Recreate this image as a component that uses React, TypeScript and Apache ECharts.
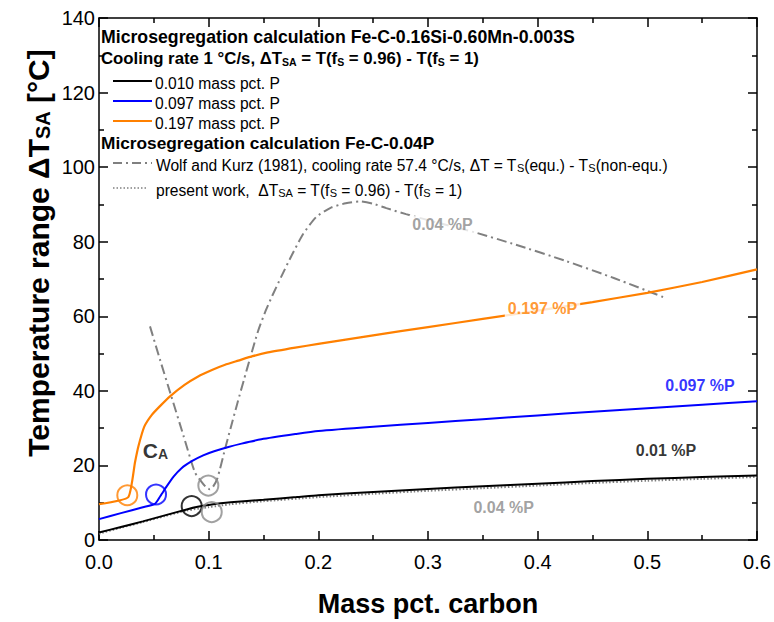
import React, { useEffect, useRef } from 'react';
import * as echarts from 'echarts';

const FONT = '"Liberation Sans", Arial, Helvetica, sans-serif';

// Fe-C-0.16Si-0.60Mn-0.003S, 0.010 mass pct. P
const p010X = [0, 0.02, 0.04, 0.06, 0.08, 0.09, 0.1, 0.12, 0.15, 0.18, 0.2, 0.25, 0.3, 0.35, 0.4, 0.45, 0.5, 0.55, 0.6];
const p010Y = [2.0, 3.5, 5.0, 6.6, 8.2, 8.9, 9.4, 10.1, 10.8, 11.5, 12.0, 12.9, 13.7, 14.4, 15.1, 15.8, 16.4, 16.9, 17.3];

// 0.097 mass pct. P
const p097X = [0, 0.02, 0.04, 0.051, 0.056, 0.062, 0.068, 0.075, 0.085, 0.095, 0.105, 0.118, 0.13, 0.148, 0.179, 0.2, 0.25, 0.3, 0.35, 0.4, 0.45, 0.5, 0.55, 0.6];
const p097Y = [5.6, 7.2, 8.8, 9.7, 11.8, 14.5, 17.0, 19.2, 21.2, 22.7, 23.8, 24.95, 25.85, 27.0, 28.4, 29.25, 30.4, 31.4, 32.4, 33.4, 34.4, 35.35, 36.3, 37.2];

// 0.197 mass pct. P
const p197X = [0, 0.0267, 0.0328, 0.036, 0.0413, 0.048, 0.0556, 0.065, 0.078, 0.09, 0.103, 0.115, 0.127, 0.14, 0.154, 0.179, 0.2, 0.25, 0.3, 0.35, 0.4, 0.45, 0.5, 0.55, 0.6];
const p197Y = [9.6, 11.5, 20.8, 25.2, 30.4, 33.5, 35.9, 38.6, 41.6, 43.8, 45.6, 47.0, 48.1, 49.3, 50.3, 51.6, 52.6, 54.9, 57.1, 59.3, 61.5, 63.8, 66.3, 69.2, 72.6];

// Fe-C-0.04P, Wolf and Kurz (1981)
const wolfX = [0.0465, 0.056, 0.066, 0.077, 0.0875, 0.0935, 0.0975, 0.101, 0.104, 0.108, 0.115, 0.12, 0.126, 0.132, 0.138, 0.145, 0.152, 0.158, 0.166, 0.176, 0.186, 0.198, 0.212, 0.225, 0.238, 0.25, 0.262, 0.28, 0.31, 0.344, 0.38, 0.426, 0.47, 0.515];
const wolfY = [57.3, 48, 38.5, 28, 18.1, 15.6, 14.2, 13.6, 14.3, 16.6, 24.5, 30, 36.5, 42.8, 49, 56, 61.5, 65.5, 70.5, 76.5, 82, 86.6, 89.2, 90.3, 90.8, 90.2, 89, 87.4, 85, 82.4, 79.2, 74.8, 70.2, 65.1];

// Fe-C-0.04P, present work
const presentX = [0, 0.02, 0.04, 0.06, 0.08, 0.1, 0.12, 0.15, 0.2, 0.25, 0.3, 0.35, 0.4, 0.45, 0.5, 0.55, 0.6];
const presentY = [1.7, 3.3, 4.8, 6.4, 7.9, 8.8, 9.6, 10.4, 11.5, 12.4, 13.2, 13.9, 14.6, 15.3, 15.9, 16.4, 16.9];

// C_A markers (circles)
const caPointX = [0.0258, 0.052, 0.0845, 0.0997, 0.1028];
const caPointY = [12.0, 12.2, 9.1, 14.6, 7.5];

// curve labels
const curveLabelText = ['0.04 %P', '0.197 %P', '0.097 %P', '0.01 %P', '0.04 %P'];
const curveLabelX = [0.3132, 0.4044, 0.548, 0.517, 0.369];
const curveLabelY = [84.6, 62.0, 41.4, 23.9, 8.8];

const caLabelX = 0.0515;
const caLabelY = 25.2;

const GREY = '#808080';
const GREY_TXT = '#8a8a8a';
const ORANGE = '#ff8000';
const BLUE = '#0000ff';
const BLACK = '#000000';

const circleColors = [ORANGE, BLUE, BLACK, GREY_TXT, GREY_TXT];
const labelColors = [GREY_TXT, ORANGE, BLUE, BLACK, GREY_TXT];
const labelBg = ['#ffffff', '#ffffff', 'transparent', 'transparent', 'transparent'];

const zip = (xs: number[], ys: number[]) => xs.map((x, i) => [x, ys[i]]);

const sub = (size: number, weight: string, lh: number) => ({
  fontSize: size,
  fontWeight: weight,
  fontFamily: FONT,
  fill: '#000',
  lineHeight: lh,
  verticalAlign: 'bottom',
});

function buildOption() {
  const axisCommon = {
    axisLine: { show: true, onZero: false, lineStyle: { color: '#000', width: 1.5 } },
    axisTick: { show: true, inside: true, length: 9, lineStyle: { color: '#000', width: 1.5 } },
    minorTick: { show: true, splitNumber: 2, length: 5, lineStyle: { color: '#000', width: 1.5 } },
    splitLine: { show: false },
    minorSplitLine: { show: false },
  };
  const lgX1 = 113;
  const lgX2 = 152;
  const textX = 155;
  const h1Rich = { b: sub(17.7, 'bold', 20) };
  const hRich = { b: sub(17.3, 'bold', 20) };
  const bRich = {
    b: sub(16.8, 'bold', 20),
    s: sub(10.5, 'bold', 8),
  };
  const nRich = {
    n: sub(15.6, 'normal', 20),
    s: sub(11, 'normal', 8),
  };
  const graphic: any[] = [
    {
      type: 'text', x: 101, y: 36,
      style: { text: '{b|Microsegregation calculation Fe-C-0.16Si-0.60Mn-0.003S}', rich: h1Rich, textAlign: 'left', textVerticalAlign: 'middle' },
    },
    {
      type: 'text', x: 101, y: 57,
      style: { text: '{b|Cooling rate 1 °C/s, ΔT}{s|SA}{b| = T(f}{s|S}{b| = 0.96) - T(f}{s|S}{b| = 1)}', rich: bRich, textAlign: 'left', textVerticalAlign: 'middle' },
    },
    { type: 'line', shape: { x1: lgX1, y1: 81, x2: lgX2, y2: 81 }, style: { stroke: BLACK, lineWidth: 2 } },
    { type: 'text', x: textX, y: 81, style: { text: '{n|0.010 mass pct. P}', rich: nRich, textAlign: 'left', textVerticalAlign: 'middle' } },
    { type: 'line', shape: { x1: lgX1, y1: 101, x2: lgX2, y2: 101 }, style: { stroke: BLUE, lineWidth: 2 } },
    { type: 'text', x: textX, y: 101, style: { text: '{n|0.097 mass pct. P}', rich: nRich, textAlign: 'left', textVerticalAlign: 'middle' } },
    { type: 'line', shape: { x1: lgX1, y1: 121, x2: lgX2, y2: 121 }, style: { stroke: ORANGE, lineWidth: 2 } },
    { type: 'text', x: textX, y: 121, style: { text: '{n|0.197 mass pct. P}', rich: nRich, textAlign: 'left', textVerticalAlign: 'middle' } },
    {
      type: 'text', x: 101, y: 141,
      style: { text: '{b|Microsegregation calculation Fe-C-0.04P}', rich: hRich, textAlign: 'left', textVerticalAlign: 'middle' },
    },
    { type: 'line', shape: { x1: lgX1, y1: 163, x2: lgX2, y2: 163 }, style: { stroke: GREY, lineWidth: 2, lineDash: [9, 4, 2, 4] } },
    {
      type: 'text', x: textX + 1, y: 163,
      style: { text: '{n|Wolf and Kurz (1981), cooling rate 57.4 °C/s, ΔT = T}{s|S}{n|(equ.) - T}{s|S}{n|(non-equ.)}', rich: nRich, textAlign: 'left', textVerticalAlign: 'middle' },
    },
    { type: 'line', shape: { x1: lgX1, y1: 188, x2: 148, y2: 188 }, style: { stroke: GREY, lineWidth: 1.5, lineDash: [1.5, 2] } },
    {
      type: 'text', x: textX + 1, y: 188,
      style: { text: '{n|present work,  ΔT}{s|SA}{n| = T(f}{s|S}{n| = 0.96) - T(f}{s|S}{n| = 1)}', rich: nRich, textAlign: 'left', textVerticalAlign: 'middle' },
    },
    {
      type: 'text', x: 36, y: 253, rotation: Math.PI / 2,
      style: {
        text: '{b|Temperature range ΔT}{s|SA}{b| [°C]}',
        rich: { b: sub(30, 'bold', 34), s: sub(20, 'bold', 14) },
        textAlign: 'center', textVerticalAlign: 'middle',
      },
    },
  ];

  return {
    animation: false,
    backgroundColor: '#ffffff',
    textStyle: { fontFamily: FONT },
    grid: { left: 99, right: 17, top: 18, bottom: 77, containLabel: false },
    xAxis: [
      {
        type: 'value', min: 0, max: 0.6, interval: 0.1, position: 'bottom',
        ...axisCommon,
        axisLabel: { show: true, fontSize: 20, color: '#000', fontFamily: FONT, margin: 12, formatter: (v: number) => v.toFixed(1) },
        name: 'Mass pct. carbon', nameLocation: 'middle', nameGap: 50,
        nameTextStyle: { fontSize: 27, fontWeight: 'bold', color: '#000', fontFamily: FONT },
      },
      {
        type: 'value', min: 0, max: 0.6, interval: 0.1, position: 'top',
        ...axisCommon,
        axisLabel: { show: false },
      },
    ],
    yAxis: [
      {
        type: 'value', min: 0, max: 140, interval: 20, position: 'left',
        ...axisCommon,
        axisLabel: { show: true, fontSize: 20, color: '#000', fontFamily: FONT, margin: 4 },
      },
      {
        type: 'value', min: 0, max: 140, interval: 20, position: 'right',
        ...axisCommon,
        axisLabel: { show: false },
      },
    ],
    graphic,
    series: [
      {
        name: 'present work', type: 'line', data: zip(presentX, presentY), symbol: 'none', smooth: 0.2,
        lineStyle: { color: GREY, width: 2, type: [1.5, 2] }, z: 2, silent: true,
      },
      {
        name: 'Wolf and Kurz (1981)', type: 'line', data: zip(wolfX, wolfY), symbol: 'none', smooth: 0.2,
        lineStyle: { color: GREY, width: 2, type: [10, 4, 2, 4] }, z: 2, silent: true,
      },
      {
        name: '0.010 mass pct. P', type: 'line', data: zip(p010X, p010Y), symbol: 'none', smooth: 0.2,
        lineStyle: { color: BLACK, width: 2 }, z: 3, silent: true,
      },
      {
        name: '0.097 mass pct. P', type: 'line', data: zip(p097X, p097Y), symbol: 'none', smooth: 0.2,
        lineStyle: { color: BLUE, width: 2 }, z: 3, silent: true,
      },
      {
        name: '0.197 mass pct. P', type: 'line', data: zip(p197X, p197Y), symbol: 'none', smooth: 0.15,
        lineStyle: { color: ORANGE, width: 2.2 }, z: 3, silent: true,
      },
      {
        name: 'C_A', type: 'scatter', symbol: 'circle', symbolSize: 20, silent: true, z: 4,
        data: caPointX.map((x, i) => ({
          value: [x, caPointY[i]],
          itemStyle: { color: 'rgba(0,0,0,0)', borderColor: circleColors[i], borderWidth: 2 },
        })),
      },
      {
        name: 'labels', type: 'scatter', symbolSize: 1, silent: true, z: 6,
        itemStyle: { color: 'rgba(0,0,0,0)' },
        data: curveLabelX.map((x, i) => ({
          value: [x, curveLabelY[i]],
          name: curveLabelText[i],
          label: {
            show: true, position: 'inside', formatter: curveLabelText[i],
            color: labelColors[i], fontSize: 16, fontWeight: 'bold', fontFamily: FONT,
            backgroundColor: labelBg[i], padding: [1, 3],
          },
        })),
      },
      {
        name: 'CA', type: 'scatter', symbolSize: 1, silent: true, z: 6,
        itemStyle: { color: 'rgba(0,0,0,0)' },
        data: [{
          value: [caLabelX, caLabelY],
          label: {
            show: true, position: 'inside', formatter: '{c|C}{a|A}',
            rich: {
              c: { fontSize: 21, fontWeight: 'bold', color: '#000', fontFamily: FONT, lineHeight: 30, verticalAlign: 'bottom' },
              a: { fontSize: 14, fontWeight: 'bold', color: '#000', fontFamily: FONT, lineHeight: 13, verticalAlign: 'bottom' },
            },
          },
        }],
      },
    ],
  };
}

export default function App() {
  const ref = useRef<HTMLDivElement>(null);
  useEffect(() => {
    if (!ref.current) return;
    const chart = echarts.init(ref.current, undefined, { renderer: 'svg' });
    chart.setOption(buildOption() as any);
    return () => chart.dispose();
  }, []);
  return (
    <div
      ref={ref}
      style={{ position: 'absolute', left: 0, top: 0, width: 774, height: 622, background: '#fff' }}
    />
  );
}
